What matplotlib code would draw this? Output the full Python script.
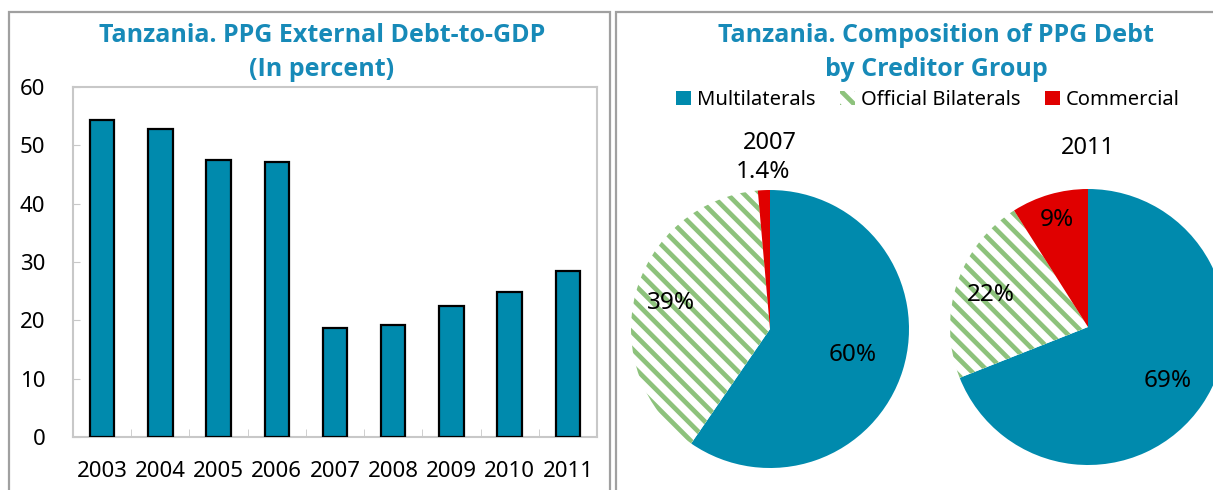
import matplotlib.pyplot as plt
import matplotlib.patches as mpatches
import numpy as np

plt.rcParams['font.family'] = ['Noto Sans', 'DejaVu Sans']
plt.rcParams['hatch.linewidth'] = 3.4

# data
years = ["2003", "2004", "2005", "2006", "2007", "2008", "2009", "2010", "2011"]
debt_to_gdp = [54.3, 52.8, 47.5, 47.1, 18.7, 19.2, 22.5, 24.9, 28.5]

groups = ["Multilaterals", "Official Bilaterals", "Commercial"]
share_2007 = [59.6, 39.0, 1.4]
labels_2007 = ["60%", "39%", "1.4%"]
share_2011 = [69, 22, 9]
labels_2011 = ["69%", "22%", "9%"]

teal = "#008aad"
green = "#8dc27c"
red = "#e00000"
title_col = "#178ab8"

W, H = 1213, 490
fig = plt.figure(figsize=(W / 100, H / 100), dpi=100)

def fx(px):
    return px / W

def fy(py):
    return 1 - py / H

# panel frames
for x0, x1 in [(9, 610), (616, 1230)]:
    fig.add_artist(mpatches.Rectangle((fx(x0), fy(500)), fx(x1 - x0), (500 - 12) / H,
                                      transform=fig.transFigure, fill=False,
                                      edgecolor="#a0a0a0", lw=1.6))

# ---- bar chart ----
ax = fig.add_axes([fx(73), fy(437), fx(597 - 73), (437 - 87) / H])
x = np.arange(len(years))
ax.bar(x, debt_to_gdp, width=0.42, color=teal, edgecolor="black", lw=1.6, zorder=3)
ax.set_xlim(-0.5, len(years) - 0.5)
ax.set_ylim(0, 60)
ax.set_yticks(range(0, 61, 10))
ax.set_xticks(x)
ax.set_xticklabels(years)
ax.set_xticks(np.arange(0.5, len(years) - 1, 1), minor=True)
for s in ax.spines.values():
    s.set_color("#c8c8c8")
    s.set_linewidth(1.5)
ax.tick_params(axis="y", direction="in", length=5, color="#c8c8c8", labelsize=16, pad=20)
ax.tick_params(axis="x", which="major", length=0, labelsize=16, pad=17)
ax.tick_params(axis="x", which="minor", direction="in", length=6, color="#c8c8c8")

title_kw = dict(ha="center", va="center", fontsize=18, fontweight="bold",
                color=title_col, family=["Open Sans", "DejaVu Sans"])
fig.text(fx(322), fy(35), "Tanzania. PPG External Debt-to-GDP", **title_kw)
fig.text(fx(322), fy(70), "(In percent)", **title_kw)

# ---- pies ----
fig.text(fx(936), fy(35), "Tanzania. Composition of PPG Debt", **title_kw)
fig.text(fx(936), fy(70), "by Creditor Group", **title_kw)

def draw_pie(cx, cy, r, shares, labels, dists, year, year_dist):
    pax = fig.add_axes([fx(cx - r), fy(cy + r), fx(2 * r), 2 * r / H])
    wedges, _ = pax.pie(shares, startangle=90, counterclock=False,
                        colors=[teal, "white", red], radius=1,
                        wedgeprops=dict(linewidth=0))
    wedges[1].set_hatch("\\\\")
    wedges[1].set_edgecolor(green)
    wedges[1].set_linewidth(0)
    for w, lab, d in zip(wedges, labels, dists):
        ang = np.deg2rad((w.theta1 + w.theta2) / 2)
        pax.text(d * np.cos(ang), d * np.sin(ang), lab, ha="center", va="center", fontsize=17.5)
    pax.text(0, year_dist, year, ha="center", va="center", fontsize=17)
    pax.set_xlim(-1, 1)
    pax.set_ylim(-1, 1)
    pax.axis("off")
    for t in pax.texts:
        t.set_clip_on(False)
    return wedges

wedges = draw_pie(770, 329, 139, share_2007, labels_2007, [0.62, 0.74, 1.13], "2007", 1.34)
draw_pie(1088, 327, 138, share_2011, labels_2011, [0.70, 0.74, 0.81], "2011", 1.30)

fig.legend(wedges, groups, loc="center", bbox_to_anchor=(fx(928), fy(100)), ncol=3,
           frameon=False, fontsize=14.5, handlelength=0.75, handleheight=0.75,
           handletextpad=0.3, columnspacing=1.2)

fig.savefig("out.png", dpi=100)
